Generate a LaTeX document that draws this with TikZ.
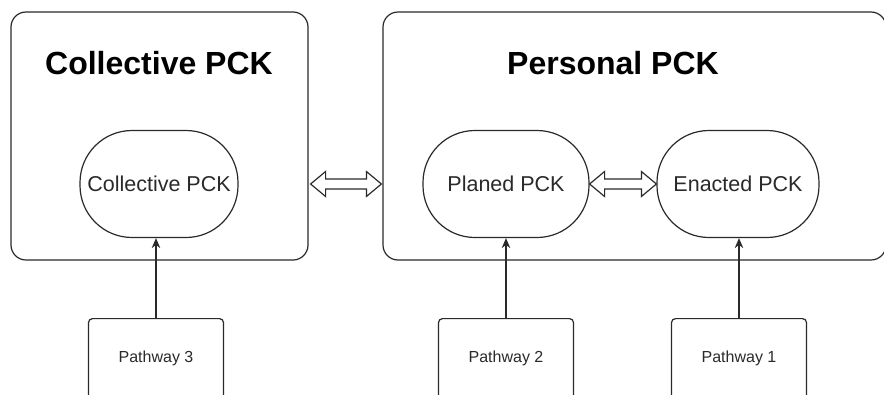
\documentclass[tikz,border=0pt]{standalone}
\usepackage{fontspec}
\setmainfont{Liberation Sans}
\usetikzlibrary{arrows.meta,calc}
\definecolor{ln}{HTML}{2A2A2A}
\newcommand\pckdarrow[2]{\draw[harrow] let \p1=(#1), \p2=(#2) in
  (\x1,\y1) -- (\x1+15pt,\y1+12.5pt) -- (\x1+15pt,\y1+5pt) -- (\x2-15pt,\y1+5pt)
  -- (\x2-15pt,\y1+12.5pt) -- (\x2,\y1) -- (\x2-15pt,\y1-12.5pt) -- (\x2-15pt,\y1-5pt)
  -- (\x1+15pt,\y1-5pt) -- (\x1+15pt,\y1-12.5pt) -- cycle;}
\tikzset{
  outer/.style={draw=ln, line width=1.2pt, rounded corners=15pt, inner sep=0pt},
  inner/.style={draw=ln, line width=1.2pt, rounded corners=52pt, inner sep=0pt,
    minimum height=107pt, font=\fontsize{21.5}{24}\selectfont, text=ln},
  title/.style={font=\fontsize{32}{36}\selectfont\bfseries, inner sep=0pt},
  pbox/.style={draw=ln, line width=1.2pt, rounded corners=4pt, inner sep=0pt,
    minimum width=135pt, minimum height=100pt, anchor=north},
  ptext/.style={font=\fontsize{16}{18}\selectfont, inner sep=0pt, text=ln},
  arr/.style={draw=ln, line width=1.2pt, -{Stealth[length=10pt,width=8.5pt]}},
  harrow/.style={draw=ln, line width=1.2pt, fill=white, line join=miter}
}
\begin{document}
\begin{tikzpicture}[x=1pt,y=-1pt]
\useasboundingbox[fill=white] (0,0) rectangle (884,394);
\begin{scope}
\clip (0,0) rectangle (884,394);
% outer boxes
\node[outer, minimum width=297pt, minimum height=248pt] (lbox) at (159.5,136) {};
\node[outer, minimum width=503pt, minimum height=248pt] (rbox) at (634.5,136) {};
\node[title] (ltitle) at (159,63) {Collective PCK};
\node[title] (rtitle) at (613,63) {Personal PCK};
% inner nodes
\node[inner, minimum width=158pt] (cpck) at (159,184) {Collective PCK};
\node[inner, minimum width=166pt] (plan) at (506,184) {Planed PCK};
\node[inner, minimum width=162pt] (enact) at (738,184) {Enacted PCK};
% double arrows
\pckdarrow{$(cpck.east -| lbox.east)+(2pt,0)$}{$(cpck.east -| rbox.west)+(-1pt,0)$}
\pckdarrow{plan.east}{enact.west}
% pathway boxes
\node[pbox] (p3box) at (156,318) {};
\node[ptext] (p3) at (156,358) {Pathway 3};
\node[pbox] (p2box) at (506,318) {};
\node[ptext] (p2) at (506,358) {Pathway 2};
\node[pbox] (p1box) at (739,318) {};
\node[ptext] (p1) at (739,358) {Pathway 1};
% arrows
\draw[arr] (p3box.north) -- (p3box.north |- cpck.south);
\draw[arr] (p2box.north) -- (p2box.north |- plan.south);
\draw[arr] (p1box.north) -- (p1box.north |- enact.south);
\end{scope}
\end{tikzpicture}
\end{document}
